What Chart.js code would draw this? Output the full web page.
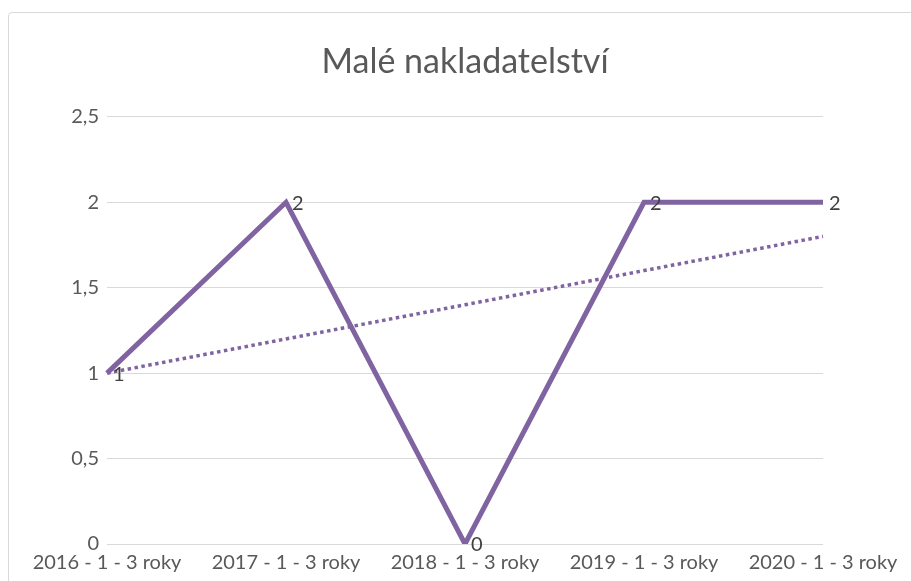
<!DOCTYPE html>
<html>
<head>
<meta charset="utf-8">
<script src="https://cdn.jsdelivr.net/npm/chart.js@4.4.1/dist/chart.umd.min.js"></script>
<style>
  html, body { margin: 0; padding: 0; background: #fff; }
  #wrap { position: relative; width: 911px; height: 581px; overflow: hidden; }
  #frame { position: absolute; left: 8px; top: 12px; width: 1000px; height: 1000px;
           border: 1px solid #d9d9d9; border-radius: 4px; box-sizing: border-box; }
  canvas { position: absolute; left: 0; top: 0; }
</style>
</head>
<body>
<div id="wrap">
  <div id="frame"></div>
  <canvas id="chart" width="911" height="581"></canvas>
</div>
<script>
// Data
const categories = ['2016 - 1 - 3 roky', '2017 - 1 - 3 roky', '2018 - 1 - 3 roky', '2019 - 1 - 3 roky', '2020 - 1 - 3 roky'];
const values = [1, 2, 0, 2, 2];
const trendValues = [1, 1.2, 1.4, 1.6, 1.8]; // lineární trend
const yTicks = [0, 0.5, 1, 1.5, 2, 2.5];

const purple = '#8064a2';
const textColor = '#595959';
const fontFamily = 'Lato, "Open Sans", sans-serif';

// Popisky hodnot vpravo od bodů
const valueLabels = {
  id: 'valueLabels',
  afterDatasetsDraw(chart) {
    const ctx = chart.ctx;
    const meta = chart.getDatasetMeta(0);
    ctx.save();
    ctx.font = '20px ' + fontFamily;
    ctx.fillStyle = '#404040';
    ctx.textAlign = 'left';
    ctx.textBaseline = 'middle';
    meta.data.forEach((pt, i) => {
      ctx.fillText(String(values[i]), pt.x + 6, pt.y + 1);
    });
    ctx.restore();
  }
};

const chart = new Chart(document.getElementById('chart'), {
  type: 'line',
  data: {
    labels: categories,
    datasets: [
      {
        label: 'Malé nakladatelství',
        data: values,
        borderColor: purple,
        borderWidth: 5,
        pointRadius: 0,
        tension: 0,
        order: 1
      },
      {
        label: 'Trend',
        data: trendValues,
        borderColor: purple,
        borderWidth: 3.5,
        borderDash: [3.5, 3.5],
        borderCapStyle: 'butt',
        pointRadius: 0,
        tension: 0,
        order: 0
      }
    ]
  },
  options: {
    responsive: false,
    animation: false,
    layout: { padding: { left: 0, right: 88, top: 0, bottom: 0 } },
    plugins: {
      legend: { display: false },
      tooltip: { enabled: false },
      title: {
        display: true,
        fullSize: false,
        text: 'Malé nakladatelství',
        color: textColor,
        font: { family: fontFamily, size: 34, weight: 'normal', lineHeight: 1.2 },
        padding: { top: 42, bottom: 34 }
      }
    },
    scales: {
      x: {
        offset: false,
        grid: { display: false, drawTicks: false },
        border: { display: false },
        ticks: {
          color: textColor,
          font: { family: fontFamily, size: 20 },
          maxRotation: 0,
          autoSkip: false,
          padding: 7
        },
        afterFit(scale) { scale.height = 37; }
      },
      y: {
        min: 0,
        max: 2.5,
        afterBuildTicks(scale) { scale.ticks = yTicks.map(v => ({ value: v })); },
        grid: { color: '#d9d9d9', lineWidth: 1, drawTicks: false },
        border: { display: false },
        ticks: {
          color: textColor,
          font: { family: fontFamily, size: 20 },
          padding: 8,
          callback: v => String(v).replace('.', ',')
        },
        afterFit(scale) { scale.width = 107; }
      }
    }
  },
  plugins: [valueLabels]
});
</script>
</body>
</html>
